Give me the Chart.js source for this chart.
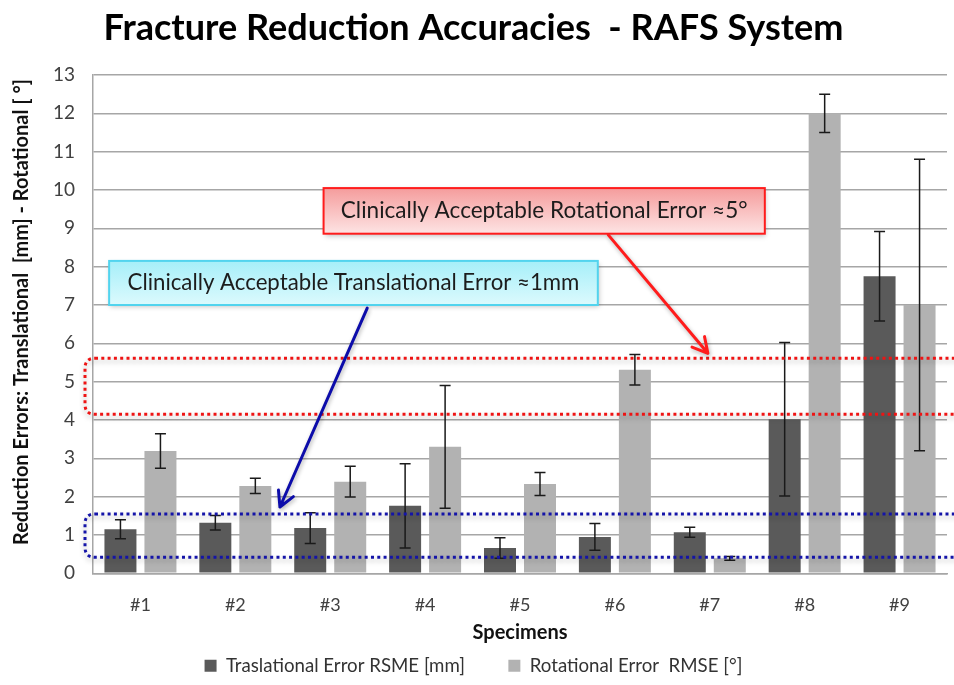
<!DOCTYPE html>
<html><head><meta charset="utf-8">
<script src="https://cdn.jsdelivr.net/npm/chart.js@4.4.1/dist/chart.umd.min.js"></script>
<style>html,body{margin:0;padding:0;background:#fff;}#wrap{width:954px;height:685px;}</style>
</head><body><div id="wrap"><canvas id="c" width="954" height="685"></canvas></div>
<script>
// ---- data ----
const specimens = ['#1', '#2', '#3', '#4', '#5', '#6', '#7', '#8', '#9'];
const translationalError = [1.15, 1.32, 1.18, 1.76, 0.66, 0.95, 1.07, 4.02, 7.75];
const translationalSD   = [0.25, 0.19, 0.40, 1.10, 0.27, 0.35, 0.13, 2.00, 1.17];
const rotationalError   = [3.19, 2.28, 2.39, 3.30, 2.33, 5.31, 0.39, 12.0, 7.00];
const rotationalSD      = [0.45, 0.20, 0.40, 1.60, 0.30, 0.40, 0.05, 0.50, 3.80];
const yTickMin = 0, yTickMax = 13, yTickStep = 1;
const seriesNames = ['Traslational Error RSME [mm]', 'Rotational Error  RMSE [\u00b0]'];
const chartTitle = 'Fracture Reduction Accuracies  - RAFS System';
const yTitle = 'Reduction Errors: Translational  [mm] - Rotational [ \u00b0]';
const xTitle = 'Specimens';

// clinically acceptable bands (in value units)
const rotationalBand = [4.15, 5.61];
const translationalBand = [0.42, 1.55];

const FONT = 'Lato, "Open Sans", sans-serif';

// font fitting helpers
const mctx = document.createElement('canvas').getContext('2d');
function textW(text, size, weight) {
  mctx.font = (weight || '') + ' ' + size + 'px ' + FONT;
  return mctx.measureText(text).width;
}
function fitSize(text, target, weight) { return 100 * target / textW(text, 100, weight); }
const titleSize = fitSize(chartTitle, 740, 'bold');
const yTitleSize = fitSize(yTitle, 466, 'bold');
const xTitleSize = fitSize(xTitle, 95, 'bold');
// legend: total span ~540px = 2 boxes(24) + 2 half-font gaps + texts + 45px item gap
const legendTexts100 = textW(seriesNames[0], 100, '') + textW(seriesNames[1], 100, '');
const legendSize = (540 - 24 - 45) / (legendTexts100 / 100 + 1);
const legendGapSpaces = Math.max(0, Math.round(35 / textW('\u00a0', legendSize, '')));
const yTitleLead = Math.max(0, Math.round(24 / textW('\u00a0', yTitleSize, 'bold')));

// ---- annotations (positions in category index / value units) ----
const callouts = [
  { text: 'Clinically Acceptable Rotational Error \u22485\u00b0', x0: 1.93, x1: 6.58, yTop: 10.05, yBot: 8.86,
    fillTop: '#f59c9c', fillBot: '#fde4e4', border: '#ff1c1c', textW: 407,
    from: [4.93, 8.83], to: [5.98, 5.74], arrow: '#ff1c1c' },
  { text: 'Clinically Acceptable Translational Error \u22481mm', x0: -0.33, x1: 4.82, yTop: 8.15, yBot: 7.0,
    fillTop: '#a6eff9', fillBot: '#dcfafd', border: '#52d4ee', textW: 452,
    from: [2.39, 6.92], to: [1.47, 1.73], arrow: '#0c0caa' }
];
const bands = [
  { range: rotationalBand, color: '#ee1414' },
  { range: translationalBand, color: '#1414a8' }
];

function rrect(ctx, x, y, w, h, r) {
  ctx.beginPath();
  ctx.moveTo(x + r, y);
  ctx.lineTo(x + w - r, y); ctx.quadraticCurveTo(x + w, y, x + w, y + r);
  ctx.lineTo(x + w, y + h - r); ctx.quadraticCurveTo(x + w, y + h, x + w - r, y + h);
  ctx.lineTo(x + r, y + h); ctx.quadraticCurveTo(x, y + h, x, y + h - r);
  ctx.lineTo(x, y + r); ctx.quadraticCurveTo(x, y, x + r, y);
  ctx.closePath();
}

const errorBars = {
  id: 'errorBars',
  afterDatasetsDraw(chart) {
    const ctx = chart.ctx, ys = chart.scales.y;
    chart.data.datasets.forEach((ds, di) => {
      const meta = chart.getDatasetMeta(di);
      meta.data.forEach((bar, i) => {
        const v = ds.data[i], e = ds.errors[i];
        const t = ys.getPixelForValue(v + e), b = ys.getPixelForValue(v - e);
        ctx.save();
        ctx.strokeStyle = '#1a1a1a'; ctx.lineWidth = 1.5;
        ctx.beginPath();
        ctx.moveTo(bar.x, t); ctx.lineTo(bar.x, b);
        ctx.moveTo(bar.x - 5.5, t); ctx.lineTo(bar.x + 5.5, t);
        ctx.moveTo(bar.x - 5.5, b); ctx.lineTo(bar.x + 5.5, b);
        ctx.stroke();
        ctx.restore();
      });
    });
  }
};

const annotations = {
  id: 'annotations',
  afterDraw(chart) {
    const ctx = chart.ctx, xs = chart.scales.x, ys = chart.scales.y, ca = chart.chartArea;
    const px = i => xs.getPixelForValue(i), py = v => ys.getPixelForValue(v);
    // dotted bands
    bands.forEach(bd => {
      const top = py(bd.range[1]), bot = py(bd.range[0]);
      ctx.save();
      ctx.shadowColor = 'rgba(0,0,0,0.28)'; ctx.shadowBlur = 5; ctx.shadowOffsetY = 3;
      ctx.strokeStyle = bd.color; ctx.lineWidth = 3; ctx.setLineDash([3, 3.3]);
      rrect(ctx, ca.left - 8, top, ca.right - ca.left + 40, bot - top, 10);
      ctx.stroke();
      ctx.restore();
    });
    // callouts
    callouts.forEach(c => {
      const x0 = px(c.x0), x1 = px(c.x1), y0 = py(c.yTop), y1 = py(c.yBot);
      ctx.save();
      ctx.shadowColor = 'rgba(0,0,0,0.25)'; ctx.shadowBlur = 5; ctx.shadowOffsetY = 2; ctx.shadowOffsetX = 1;
      const g = ctx.createLinearGradient(0, y0, 0, y1);
      g.addColorStop(0, c.fillTop); g.addColorStop(1, c.fillBot);
      ctx.fillStyle = g;
      ctx.fillRect(x0, y0, x1 - x0, y1 - y0);
      ctx.shadowColor = 'transparent';
      ctx.strokeStyle = c.border; ctx.lineWidth = 2;
      ctx.strokeRect(x0, y0, x1 - x0, y1 - y0);
      const fs = fitSize(c.text, c.textW, '');
      ctx.font = fs.toFixed(2) + 'px ' + FONT;
      ctx.fillStyle = '#1c1c1c'; ctx.textAlign = 'center'; ctx.textBaseline = 'middle';
      ctx.fillText(c.text, (x0 + x1) / 2, (y0 + y1) / 2);
      ctx.restore();
      // arrow
      const ax = px(c.from[0]), ay = py(c.from[1]), bx = px(c.to[0]), by = py(c.to[1]);
      const ang = Math.atan2(by - ay, bx - ax), L = 17, spread = 0.5;
      ctx.save();
      ctx.shadowColor = 'rgba(0,0,0,0.3)'; ctx.shadowBlur = 4; ctx.shadowOffsetY = 2; ctx.shadowOffsetX = 1;
      ctx.strokeStyle = c.arrow; ctx.lineWidth = 3; ctx.lineCap = 'round'; ctx.lineJoin = 'round';
      ctx.beginPath();
      ctx.moveTo(ax, ay); ctx.lineTo(bx, by);
      ctx.moveTo(bx - L * Math.cos(ang - spread), by - L * Math.sin(ang - spread));
      ctx.lineTo(bx, by);
      ctx.lineTo(bx - L * Math.cos(ang + spread), by - L * Math.sin(ang + spread));
      ctx.stroke();
      ctx.restore();
    });
  }
};

const titleLH = titleSize * 1.2;
const chart = new Chart(document.getElementById('c'), {
  type: 'bar',
  data: {
    labels: specimens,
    datasets: [
      { label: seriesNames[0], data: translationalError, errors: translationalSD,
        backgroundColor: '#5a5a5a', categoryPercentage: 0.843, barPercentage: 0.8 },
      { label: seriesNames[1], data: rotationalError, errors: rotationalSD,
        backgroundColor: '#b2b2b2', categoryPercentage: 0.843, barPercentage: 0.8 }
    ]
  },
  options: {
    responsive: false,
    animation: false,
    devicePixelRatio: 1,
    layout: { padding: { left: 0, right: 7, top: 0, bottom: 0 } },
    scales: {
      x: {
        grid: { display: false, drawTicks: false },
        border: { color: '#a6a6a6', width: 1.5 },
        ticks: { font: { family: FONT, size: 18 }, color: '#404040', padding: 21 },
        title: { display: true, text: xTitle, font: { family: FONT, size: xTitleSize, weight: 'bold' }, color: '#111',
                 padding: { top: 0, bottom: 2 } },
        afterFit: s => { s.height = 73; }
      },
      y: {
        min: yTickMin, max: yTickMax,
        ticks: { stepSize: yTickStep, font: { family: FONT, size: 19 }, color: '#404040', padding: 18 },
        grid: { color: '#a6a6a6', lineWidth: 1.5, drawTicks: false },
        border: { color: '#a6a6a6', width: 1.5 },
        title: { display: true, text: '\u00a0'.repeat(yTitleLead) + yTitle,
                 font: { family: FONT, size: yTitleSize, weight: 'bold' }, color: '#111',
                 padding: { top: 22 - yTitleSize * 0.6, bottom: 0 } },
        afterFit: s => { s.width = 93; }
      }
    },
    plugins: {
      title: { display: true, text: chartTitle,
               font: { family: FONT, size: titleSize, weight: 'bold' }, color: '#000',
               padding: { top: 28 - titleLH / 2, bottom: 75 - (28 + titleLH / 2) } },
      legend: {
        position: 'bottom',
        labels: {
          font: { family: FONT, size: legendSize }, color: '#333', boxWidth: 12, boxHeight: 12, padding: 10,
          generateLabels: ch => Chart.defaults.plugins.legend.labels.generateLabels(ch).map((it, i) => {
            if (i === 0) it.text = it.text + '\u00a0'.repeat(legendGapSpaces);
            it.lineWidth = 0;
            return it;
          })
        }
      },
      tooltip: { enabled: false }
    }
  },
  plugins: [errorBars, annotations]
});
</script></body></html>
